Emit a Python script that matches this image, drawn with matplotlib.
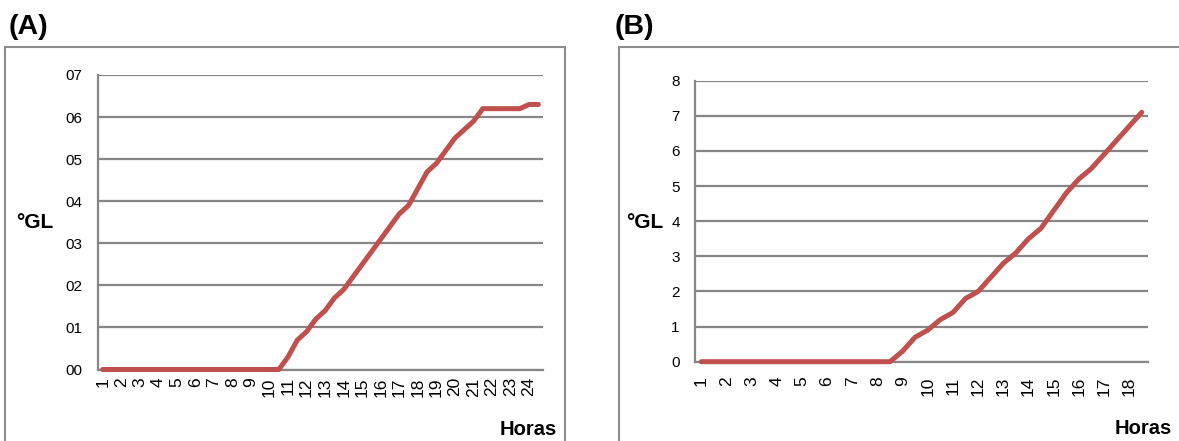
import numpy as np
import matplotlib
matplotlib.use("Agg")
import matplotlib.pyplot as plt
from matplotlib.patches import Rectangle

plt.rcParams['font.family'] = ['Liberation Sans', 'DejaVu Sans']

# readings every half hour, labelled on the whole hour
horas_a = [str(h) for h in range(1, 25)]
gl_a = [0, 0, 0, 0, 0, 0, 0, 0, 0, 0, 0, 0, 0, 0, 0, 0, 0, 0, 0, 0,
        0.3, 0.7, 0.9, 1.2, 1.4, 1.7, 1.9, 2.2, 2.5, 2.8, 3.1, 3.4, 3.7, 3.9,
        4.3, 4.7, 4.9, 5.2, 5.5, 5.7, 5.9, 6.2, 6.2, 6.2, 6.2, 6.2, 6.3, 6.3]
yticks_a = ["00", "01", "02", "03", "04", "05", "06", "07"]

horas_b = [str(h) for h in range(1, 19)]
gl_b = [0, 0, 0, 0, 0, 0, 0, 0, 0, 0, 0, 0, 0, 0, 0, 0,
        0.3, 0.7, 0.9, 1.2, 1.4, 1.8, 2.0, 2.4, 2.8, 3.1, 3.5, 3.8,
        4.3, 4.8, 5.2, 5.5, 5.9, 6.3, 6.7, 7.1]
yticks_b = ["0", "1", "2", "3", "4", "5", "6", "7", "8"]

W, H = 1179, 441
LINE = '#C0504D'
GRID = '#868686'
FRAME = '#8C8C8C'

fig = plt.figure(figsize=(W / 100, H / 100), dpi=100)
fig.patch.set_facecolor('white')


def px(x0, y0, x1, y1):
    # pixel box (top-left origin) -> figure fraction rect
    return [x0 / W, 1 - y1 / H, (x1 - x0) / W, (y1 - y0) / H]


def panel(rect, values, hour_labels, ylabels, xpad):
    ax = fig.add_axes(rect)
    x = np.arange(len(values))
    ax.plot(x, values, color=LINE, lw=3.6, solid_capstyle='round',
            solid_joinstyle='round', zorder=3, clip_on=False)
    ax.set_xlim(-0.5, len(values) - 0.5)
    ax.set_ylim(0, len(ylabels) - 1)
    ax.set_yticks(range(len(ylabels)))
    ax.set_yticklabels(ylabels)
    ax.set_xticks(x[::2])
    ax.set_xticklabels(hour_labels, rotation=90)
    ax.grid(axis='y', color=GRID, lw=1.6)
    ax.set_axisbelow(True)
    for s in ['top', 'right']:
        ax.spines[s].set_visible(False)
    for s in ['left', 'bottom']:
        ax.spines[s].set_color(GRID)
        ax.spines[s].set_linewidth(1.6)
    ax.tick_params(axis='y', length=0, pad=11, labelsize=11)
    ax.tick_params(axis='x', length=0, pad=xpad, labelsize=12.5)
    return ax


# outer frames
fig.add_artist(Rectangle((4.5 / W, -0.1), (565 - 4.5) / W, 1.1 - 47 / H,
                         transform=fig.transFigure, fill=False,
                         edgecolor=FRAME, lw=1.5))
fig.add_artist(Rectangle((619 / W, -0.1), 0.6, 1.1 - 47 / H,
                         transform=fig.transFigure, fill=False,
                         edgecolor=FRAME, lw=1.5))

panel(px(98, 75, 543, 369.5), gl_a, horas_a, yticks_a, 5.5)
panel(px(695, 80.7, 1148, 361.7), gl_b, horas_b, yticks_b, 10.5)

bold = dict(fontweight='bold', color='black')
fig.text(9 / W, 1 - 33.5 / H, "(A)", fontsize=20.5, ha='left', va='baseline', **bold)
fig.text(615 / W, 1 - 33.5 / H, "(B)", fontsize=20.5, ha='left', va='baseline', **bold)
fig.text(35 / W, 1 - 222 / H, "°GL", fontsize=15, ha='center', va='center', **bold)
fig.text(645 / W, 1 - 222 / H, "°GL", fontsize=15, ha='center', va='center', **bold)
fig.text(557 / W, 1 - 435 / H, "Horas", fontsize=14.5, ha='right', va='baseline', **bold)
fig.text(1172 / W, 1 - 433.5 / H, "Horas", fontsize=14.5, ha='right', va='baseline', **bold)

fig.savefig('out.png', dpi=100)
